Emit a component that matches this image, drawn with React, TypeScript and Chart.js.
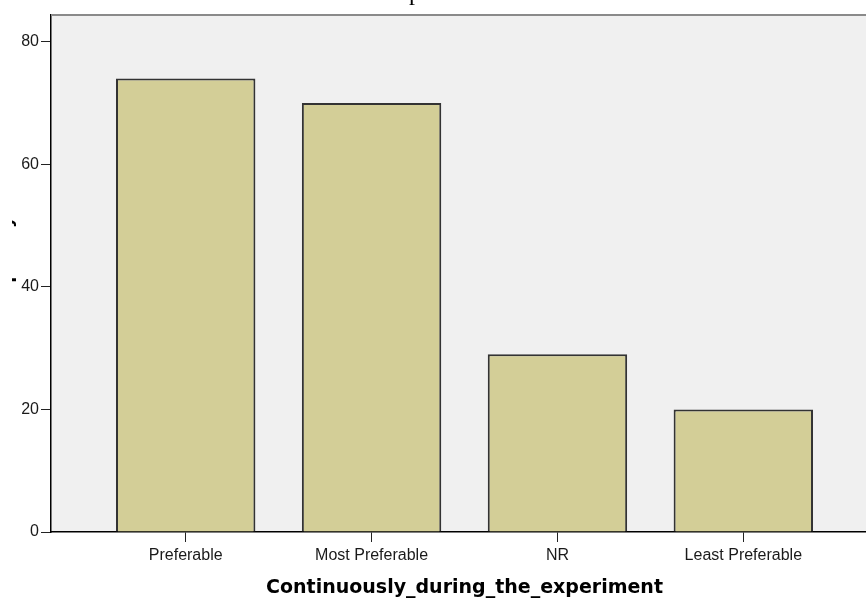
import React, { useEffect, useRef } from "react";
import { Chart, registerables } from "chart.js";

Chart.register(...registerables);

const categories = ["Preferable", "Most Preferable", "NR", "Least Preferable"];
const frequencies = [74, 70, 29, 20];
const yTicks = [0, 20, 40, 60, 80];
const xAxisTitle = "Continuously_during_the_experiment";
const yAxisTitle = "Frequency";
const topTitleFragment = "p";

const SANS = "'Liberation Sans', Arial, sans-serif";
const BOLD = "'DejaVu Sans', 'Liberation Sans', sans-serif";

export default function App() {
  const ref = useRef<HTMLCanvasElement>(null);

  useEffect(() => {
    document.body.style.margin = "0";
    const canvas = ref.current;
    if (!canvas) return;

    const decor = {
      id: "spssDecor",
      beforeDraw(chart: any) {
        const { ctx, chartArea: a } = chart;
        ctx.save();
        ctx.fillStyle = "#f0f0f0";
        ctx.fillRect(a.left, a.top, a.right - a.left, a.bottom - a.top);
        ctx.restore();
      },
      afterDraw(chart: any) {
        const { ctx, chartArea: a } = chart;
        const xs = chart.scales.x;
        ctx.save();
        // top frame line
        ctx.strokeStyle = "#8a8a8a";
        ctx.lineWidth = 2;
        ctx.beginPath();
        ctx.moveTo(a.left, a.top);
        ctx.lineTo(a.right, a.top);
        ctx.stroke();

        // x axis title
        ctx.fillStyle = "#000";
        ctx.font = `bold 19px ${BOLD}`;
        ctx.textAlign = "center";
        ctx.textBaseline = "alphabetic";
        ctx.fillText(xAxisTitle, xs.getPixelForValue(2.5), 593);

        // y axis title (clipped, only descenders visible)
        ctx.save();
        ctx.beginPath();
        ctx.rect(12, 0, 30, 601);
        ctx.clip();
        ctx.translate(11.5, 269);
        ctx.rotate(-Math.PI / 2);
        ctx.font = `bold 18px ${BOLD}`;
        ctx.textAlign = "center";
        ctx.fillText(yAxisTitle, 0, 0);
        ctx.restore();

        // clipped title fragment at top
        ctx.font = "24px 'Liberation Serif', serif";
        ctx.textAlign = "left";
        ctx.fillText(topTitleFragment, 409, 0);
        ctx.restore();
      },
    };

    const chart = new Chart(canvas, {
      type: "bar",
      data: {
        datasets: [
          {
            data: frequencies.map((v, i) => ({ x: i + 1, y: v })),
            backgroundColor: "#d3ce97",
            borderColor: "#333333",
            borderWidth: 2,
            barPercentage: 0.75,
            categoryPercentage: 1,
          },
        ],
      },
      options: {
        responsive: false,
        animation: false,
        layout: { padding: { top: 15, left: 0, right: 0, bottom: 0 } },
        plugins: { legend: { display: false }, tooltip: { enabled: false } },
        scales: {
          x: {
            type: "linear",
            min: 0.2753,
            max: 4.66,
            offset: false,
            afterBuildTicks: (s: any) => {
              s.ticks = categories.map((_, i) => ({ value: i + 1 }));
            },
            afterFit: (s: any) => {
              s.height = 69;
            },
            grid: {
              offset: false,
              drawOnChartArea: false,
              drawTicks: true,
              tickLength: 10,
              color: "#222",
            },
            border: { display: true, color: "#000", width: 1.5 },
            ticks: {
              autoSkip: false,
              maxRotation: 0,
              padding: 4,
              color: "#1a1a1a",
              font: { family: SANS, size: 16 },
              callback: (_v: any, i: number) => categories[i] ?? "",
            },
          },
          y: {
            min: 0,
            max: 84.35,
            afterBuildTicks: (s: any) => {
              s.ticks = yTicks.map((v) => ({ value: v }));
            },
            afterFit: (s: any) => {
              s.width = 51;
            },
            grid: {
              drawOnChartArea: false,
              drawTicks: true,
              tickLength: 10,
              color: "#222",
            },
            border: { display: true, color: "#000", width: 1.5 },
            ticks: {
              padding: 2,
              color: "#1a1a1a",
              font: { family: SANS, size: 16 },
            },
          },
        },
      },
      plugins: [decor],
    } as any);

    return () => chart.destroy();
  }, []);

  return (
    <div style={{ width: 866, height: 601, overflow: "hidden", background: "#fff" }}>
      <canvas ref={ref} width={866} height={601} style={{ display: "block" }} />
    </div>
  );
}
